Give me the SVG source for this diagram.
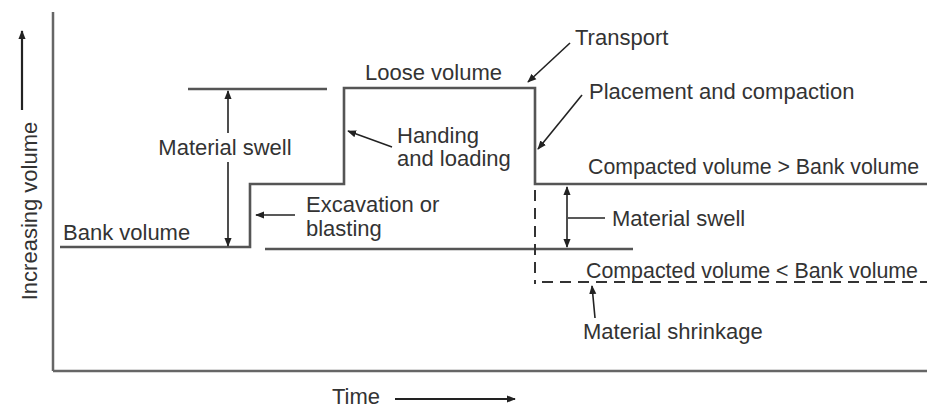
<svg xmlns="http://www.w3.org/2000/svg" width="931" height="410" viewBox="0 0 931 410">
<defs>
<marker id="ah" viewBox="0 0 10 10" refX="9" refY="5" markerWidth="9" markerHeight="9" markerUnits="userSpaceOnUse" orient="auto-start-reverse">
<path d="M0,1 L10,5 L0,9 Z" fill="#222"/>
</marker>
<style>
text{font-family:"Liberation Sans",Arial,sans-serif;font-size:22px;fill:#333}
.ax{stroke:#666;stroke-width:2.5;fill:none}
.ln{stroke:#555;stroke-width:2.6;fill:none}
.ar{stroke:#222;stroke-width:1.6;fill:none}
.ar2{stroke:#222;stroke-width:2.2;fill:none}
.ds{stroke:#333;stroke-width:2;fill:none;stroke-dasharray:11 7}
</style>
</defs>
<rect width="931" height="410" fill="#fff"/>
<g id="axes">
<line class="ax" x1="53" y1="12" x2="53" y2="371"/>
<line class="ax" x1="53" y1="371" x2="927" y2="371"/>
<text transform="translate(37,211) rotate(-90)" text-anchor="middle">Increasing volume</text>
<line class="ar2" x1="22" y1="110" x2="22" y2="31" marker-end="url(#ah)"/>
<text x="332" y="404" font-size="21">Time</text>
<line class="ar2" x1="395" y1="399" x2="515" y2="399" marker-end="url(#ah)"/>
</g>
<g id="volume-curve">
<polyline class="ln" points="60,247 250,247 250,184 344,184 344,88 535,88 535,184 927,184"/>
</g>
<g id="reference-lines">
<line class="ln" x1="188" y1="89" x2="327" y2="89"/>
<line class="ln" x1="265" y1="249" x2="633" y2="249"/>
<line class="ds" x1="535" y1="190" x2="535" y2="284"/>
<line class="ds" x1="542" y1="282" x2="927" y2="282"/>
</g>
<g id="labels">
<text x="63" y="240">Bank volume</text>
<text x="225" y="155" text-anchor="middle">Material swell</text>
<text x="365" y="80">Loose volume</text>
<text x="397" y="143">Handing</text>
<text x="397" y="166">and loading</text>
<text x="306" y="212">Excavation or</text>
<text x="306" y="236">blasting</text>
<text x="575" y="45">Transport</text>
<text x="589" y="99">Placement and compaction</text>
<text x="588" y="174" textLength="331" lengthAdjust="spacingAndGlyphs">Compacted volume &gt; Bank volume</text>
<text x="612" y="226">Material swell</text>
<text x="586" y="278" textLength="332" lengthAdjust="spacingAndGlyphs">Compacted volume &lt; Bank volume</text>
<text x="583" y="339">Material shrinkage</text>
</g>
<g id="connectors">
<line class="ar" x1="228" y1="133" x2="228" y2="91" marker-end="url(#ah)"/>
<line class="ar" x1="228" y1="162" x2="228" y2="246" marker-end="url(#ah)"/>
<line class="ar" x1="295" y1="215" x2="256" y2="215" marker-end="url(#ah)"/>
<line class="ar" x1="392" y1="147" x2="348" y2="131" marker-end="url(#ah)"/>
<line class="ar" x1="570" y1="43" x2="528" y2="82" marker-end="url(#ah)"/>
<line class="ar" x1="582" y1="95" x2="538" y2="149" marker-end="url(#ah)"/>
<line class="ar" x1="567" y1="187" x2="567" y2="247" marker-start="url(#ah)" marker-end="url(#ah)"/>
<line class="ar" x1="568" y1="218" x2="605" y2="218"/>
<line class="ar" x1="595" y1="318" x2="592" y2="286" marker-end="url(#ah)"/>
</g>
</svg>
